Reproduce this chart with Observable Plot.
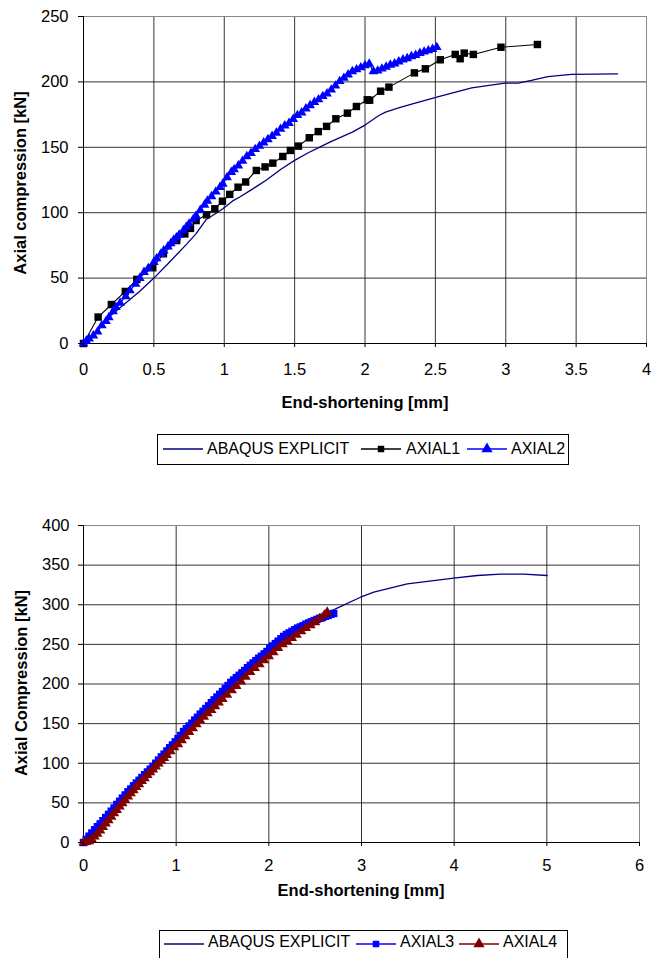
<!DOCTYPE html>
<html>
<head>
<meta charset="utf-8">
<script src="https://cdn.jsdelivr.net/npm/d3@7"></script>
<script src="https://cdn.jsdelivr.net/npm/@observablehq/plot@0.6"></script>
<style>
  html, body { margin: 0; padding: 0; background: #fff; overflow: hidden; }
  #root { position: relative; width: 652px; height: 958px; overflow: hidden; font-family: "Liberation Sans", Arial, sans-serif; color: #000; }
  .title { position: absolute; font-weight: bold; font-size: 16.5px; line-height: 1; white-space: nowrap; transform: translate(-50%, -50%); }
  .ytitle { transform: translate(-50%, -50%) rotate(-90deg); }
  .legend { position: absolute; border: 1px solid #000; background: #fff; box-sizing: border-box; }
  .legend span { position: absolute; font-size: 16px; line-height: 1; white-space: nowrap; }
  .legend svg { position: absolute; overflow: visible; }
</style>
</head>
<body>
<div id="root"></div>
<script>
// ---------- Chart 1 data ----------
const xTicks1 = [0, 0.5, 1, 1.5, 2, 2.5, 3, 3.5, 4];
const yTicks1 = [0, 50, 100, 150, 200, 250];
const xTitle1 = "End-shortening [mm]";
const yTitle1 = "Axial compression [kN]";
const series1 = ["ABAQUS EXPLICIT", "AXIAL1", "AXIAL2"];

const abaqus1 = [[0,0],[0.1,10],[0.19,21],[0.3,31],[0.4,40],[0.5,50],[0.6,61],[0.733,76],[0.8,84],[0.874,95],[0.92,98],
  [0.99,103],[1.06,109],[1.11,112],[1.2,118],[1.3,125],[1.4,133],[1.5,140],[1.6,146],[1.675,150],[1.75,154],[1.91,161.6],
  [2.0,167],[2.099,174.3],[2.146,176.9],[2.25,180.5],[2.382,184.5],[2.523,188.8],[2.758,195.5],[2.994,199],[3.088,199],
  [3.182,201.1],[3.3,204.1],[3.465,205.7],[3.795,206.2]];

const axial1 = [[0,0],[0.104,20.2],[0.198,29.8],[0.297,39.8],[0.379,49],[0.492,57.9],[0.568,68.6],[0.662,78.7],[0.72,83.8],
  [0.76,88],[0.80,94],[0.874,98.4],[0.933,103],[0.987,108.8],[1.039,114],[1.098,119.5],[1.152,123.5],[1.228,132.3],[1.29,135],
  [1.345,137.9],[1.416,143],[1.47,147.6],[1.527,150.9],[1.604,157.3],[1.668,162],[1.727,166],[1.793,171.8],[1.875,176.1],
  [1.939,181.2],[2.016,186.3],[2.033,186],[2.111,192.9],[2.17,196],[2.351,206.9],[2.429,210],[2.535,216.9],[2.641,221],
  [2.676,217.7],[2.705,222],[2.77,221],[2.966,226.5],[3.225,228.6]];

const axial2 = [[0,0],[0.02,2],[0.04,3.6],[0.07,6],[0.10,9],[0.13,13.8],[0.16,17],[0.18,20],[0.21,24.5],[0.23,27.8],[0.26,31],
  [0.30,36],[0.33,40.5],[0.37,45.6],[0.40,50],[0.43,54.5],[0.46,57.5],[0.50,62.2],[0.52,65],[0.55,68.5],[0.57,71],[0.60,74],
  [0.62,76.5],[0.64,79],[0.66,81],[0.68,83],[0.71,86.5],[0.73,89],[0.75,91.5],[0.78,95],[0.80,97.5],[0.83,102],[0.86,106],
  [0.88,109],[0.91,112.5],[0.94,116],[0.97,119.5],[0.99,122],[1.02,127],[1.05,131],[1.07,133],[1.10,136],[1.13,139.5],
  [1.16,143],[1.19,145.5],[1.22,148.5],[1.25,151],[1.28,153.5],[1.31,156],[1.34,158.5],[1.37,161],[1.40,164],[1.43,166.5],
  [1.46,168.5],[1.49,171.5],[1.52,174.5],[1.55,176.5],[1.58,179.5],[1.61,182],[1.64,184.5],[1.67,186.5],[1.70,189],[1.73,191],
  [1.76,194],[1.79,197],[1.82,200.5],[1.85,203],[1.88,205.5],[1.91,208],[1.94,209.5],[1.97,211],[2.00,212.5],[2.03,213.8],
  [2.06,208],[2.09,208.5],[2.12,210],[2.15,211.5],[2.18,213],[2.21,214],[2.24,215.5],[2.27,217],[2.30,218],[2.33,219.5],
  [2.36,220.5],[2.39,222],[2.42,223],[2.45,224],[2.48,225],[2.51,226.5]];

// ---------- Chart 2 data ----------
const xTicks2 = [0, 1, 2, 3, 4, 5, 6];
const yTicks2 = [0, 50, 100, 150, 200, 250, 300, 350, 400];
const xTitle2 = "End-shortening [mm]";
const yTitle2 = "Axial Compression [kN]";
const series2 = ["ABAQUS EXPLICIT", "AXIAL3", "AXIAL4"];

const abaqus2 = [[0,0],[0.1,16],[0.25,36],[0.5,68],[0.75,97],[1.0,128],[1.25,160],[1.5,190],[1.75,216],[2.0,245],[2.25,266],
  [2.5,282],[2.72,294.9],[2.989,309.5],[3.133,315.9],[3.493,326.4],[3.996,333.5],[4.248,336.9],[4.5,338.6],[4.751,338.6],[5.004,336.9]];

const axial3 = [[0,0],[0.03,4],[0.06,8],[0.09,12],[0.12,16],[0.15,20],[0.18,23.5],[0.21,27.5],[0.24,31.5],[0.27,35.5],[0.30,39.5],
  [0.33,43.5],[0.36,48],[0.39,52],[0.42,56],[0.45,60],[0.48,64],[0.51,67.5],[0.54,71.5],[0.57,75],[0.60,78.5],[0.63,82],
  [0.66,85.5],[0.69,89],[0.72,92.5],[0.75,96],[0.78,100],[0.81,104],[0.84,108],[0.87,111.5],[0.90,115.5],[0.93,119.5],
  [0.96,123],[0.99,127],[1.02,131],[1.05,135],[1.08,140],[1.11,143.5],[1.14,147],[1.17,150.5],[1.20,154.5],[1.23,158],
  [1.26,162],[1.29,165.5],[1.32,169],[1.35,172.5],[1.38,176.5],[1.41,180],[1.44,183.5],[1.47,187],[1.50,190.5],[1.53,194.5],
  [1.56,198],[1.59,202],[1.62,205],[1.65,208],[1.68,211],[1.71,214],[1.74,217],[1.77,220.5],[1.80,223.5],[1.83,226.5],
  [1.86,229.5],[1.89,232.5],[1.92,235],[1.95,238],[1.98,241],[2.01,245],[2.04,248],[2.07,251],[2.10,254],[2.13,257],
  [2.16,260],[2.19,262.5],[2.22,264.5],[2.25,266.5],[2.28,268.5],[2.31,270.5],[2.34,272],[2.37,273.5],[2.40,275.5],
  [2.43,277],[2.46,278.5],[2.49,280],[2.52,281.5],[2.55,283],[2.58,284],[2.61,285.5],[2.64,286.5],[2.67,288],[2.70,289]];

const axial4 = [[0,0],[0.03,0.5],[0.06,1.5],[0.09,4],[0.12,7.5],[0.15,11],[0.18,15],[0.21,19.5],[0.24,24],[0.27,28],[0.30,32.5],
  [0.33,37],[0.36,41],[0.39,45.5],[0.42,49.5],[0.45,53.5],[0.48,58],[0.51,62],[0.54,66],[0.57,70],[0.60,73.5],[0.63,77.5],
  [0.66,81],[0.69,85],[0.72,88.5],[0.75,92],[0.78,96],[0.81,99.5],[0.84,103],[0.87,106.5],[0.90,110.5],[0.94,115],[0.98,120],
  [1.02,124],[1.06,129],[1.10,134],[1.14,139.5],[1.18,144],[1.22,149],[1.26,154],[1.30,158.5],[1.34,163],[1.38,167],[1.42,172],
  [1.46,176.5],[1.50,181],[1.55,186.5],[1.60,192],[1.65,197.5],[1.70,203],[1.75,209],[1.80,215],[1.85,220],[1.90,225],
  [1.95,230],[2.00,235],[2.05,240],[2.10,245.5],[2.15,250],[2.20,254],[2.25,258],[2.30,262],[2.35,266.5],[2.40,270.5],
  [2.45,274],[2.50,278],[2.55,282.5],[2.60,287],[2.63,290.5]];

// ---------- styles ----------
const NAVY = "#000080", BLACK = "#000000", BLUE = "#0000ff", DARKRED = "#800000";
const X = d => d[0], Y = d => d[1];
const FONT = "'Liberation Sans', Arial, sans-serif";

function makeChart(o) {
  return Plot.plot({
    width: 652, height: 420,
    marginLeft: 83, marginRight: o.mr, marginTop: o.mt, marginBottom: o.mb,
    x: {domain: [o.xTicks[0], o.xTicks[o.xTicks.length - 1]]},
    y: {domain: [o.yTicks[0], o.yTicks[o.yTicks.length - 1]]},
    style: {fontFamily: FONT, fontSize: "16.5px", overflow: "visible", background: "transparent", color: "#000"},
    marks: [
      Plot.ruleX(o.xTicks, {stroke: "#111", strokeWidth: 1, strokeOpacity: 0.85}),
      Plot.ruleY(o.yTicks, {stroke: "#111", strokeWidth: 1, strokeOpacity: 0.85}),
      Plot.frame({stroke: "#888"}),
      Plot.ruleX([o.xTicks[0]], {stroke: "#000"}),
      Plot.ruleY([o.yTicks[0]], {stroke: "#000"}),
      ...o.marks,
      Plot.axisX(o.xTicks, {tickSize: 4, tickPadding: o.xpad, fontSize: 16.5, label: null, tickFormat: d => String(d)}),
      Plot.axisY(o.yTicks, {tickSize: 5, tickPadding: o.ypad, fontSize: 16.5, label: null, tickFormat: d => String(d)})
    ]
  });
}

const chart1 = makeChart({
  xTicks: xTicks1, yTicks: yTicks1, mr: 6, mt: 16, mb: 77, xpad: 16, ypad: 10,
  marks: [
    Plot.line(abaqus1, {x: X, y: Y, stroke: NAVY, strokeWidth: 1.3}),
    Plot.line(axial1, {x: X, y: Y, stroke: BLACK, strokeWidth: 1.1}),
    Plot.dot(axial1, {x: X, y: Y, symbol: "square", r: 4.2, fill: BLACK, stroke: "none"}),
    Plot.line(axial2, {x: X, y: Y, stroke: BLUE, strokeWidth: 1.2}),
    Plot.dot(axial2, {x: X, y: Y, symbol: "triangle", r: 3.6, fill: BLUE, stroke: "none"})
  ]
});

const chart2 = makeChart({
  xTicks: xTicks2, yTicks: yTicks2, mr: 13, mt: 45, mb: 58, xpad: 13, ypad: 9,
  marks: [
    Plot.line(abaqus2, {x: X, y: Y, stroke: NAVY, strokeWidth: 1.3}),
    Plot.line(axial3, {x: X, y: Y, stroke: BLUE, strokeWidth: 1.2}),
    Plot.dot(axial3, {x: X, y: Y, symbol: "square", r: 4.2, fill: BLUE, stroke: "none"}),
    Plot.line(axial4, {x: X, y: Y, stroke: DARKRED, strokeWidth: 1.2}),
    Plot.dot(axial4, {x: X, y: Y, symbol: "triangle", r: 3.8, fill: DARKRED, stroke: "none"})
  ]
});

const root = document.getElementById("root");
chart1.style.position = "absolute"; chart1.style.left = "0px"; chart1.style.top = "0px";
chart2.style.position = "absolute"; chart2.style.left = "0px"; chart2.style.top = "480px";
root.appendChild(chart1);
root.appendChild(chart2);

function addTitle(text, cx, cy, vertical) {
  const d = document.createElement("div");
  d.className = "title" + (vertical ? " ytitle" : "");
  d.style.left = cx + "px"; d.style.top = cy + "px";
  d.textContent = text;
  root.appendChild(d);
}
addTitle(xTitle1, 365, 402, false);
addTitle(yTitle1, 20, 183, true);
addTitle(xTitle2, 361, 890, false);
addTitle(yTitle2, 21, 683, true);

// ---------- legends ----------
function symbolSvg(color, shape) {
  const ns = "http://www.w3.org/2000/svg";
  const s = document.createElementNS(ns, "svg");
  s.setAttribute("width", 40); s.setAttribute("height", 12);
  const l = document.createElementNS(ns, "line");
  l.setAttribute("x1", 0); l.setAttribute("x2", 40); l.setAttribute("y1", 6); l.setAttribute("y2", 6);
  l.setAttribute("stroke", color); l.setAttribute("stroke-width", 1.3);
  s.appendChild(l);
  if (shape) {
    const p = document.createElementNS(ns, "path");
    const sym = shape === "square" ? d3.symbolSquare : d3.symbolTriangle;
    p.setAttribute("d", d3.symbol(sym, shape === "square" ? 42 : 55)());
    p.setAttribute("transform", "translate(20,6)");
    p.setAttribute("fill", color);
    s.appendChild(p);
  }
  return s;
}
function addLegend(box, items) {
  const lg = document.createElement("div");
  lg.className = "legend";
  Object.assign(lg.style, {left: box.left + "px", top: box.top + "px", width: box.w + "px", height: box.h + "px"});
  for (const it of items) {
    const s = symbolSvg(it.color, it.shape);
    s.style.left = (it.lx - box.left - 1) + "px";
    s.style.top = (box.lineY - box.top - 1 - 6) + "px";
    lg.appendChild(s);
    const t = document.createElement("span");
    t.textContent = it.label;
    t.style.left = (it.tx - box.left - 1) + "px";
    t.style.top = (box.textTop - box.top - 1) + "px";
    lg.appendChild(t);
  }
  root.appendChild(lg);
}
addLegend({left: 157, top: 434, w: 412, h: 31, lineY: 449, textTop: 441}, [
  {label: series1[0], color: NAVY, shape: null, lx: 163, tx: 207},
  {label: series1[1], color: BLACK, shape: "square", lx: 361, tx: 406},
  {label: series1[2], color: BLUE, shape: "triangle", lx: 467, tx: 511}
]);
addLegend({left: 159, top: 930, w: 409, h: 44, lineY: 944, textTop: 934}, [
  {label: series2[0], color: NAVY, shape: null, lx: 164, tx: 208},
  {label: series2[1], color: BLUE, shape: "square", lx: 356, tx: 400},
  {label: series2[2], color: DARKRED, shape: "triangle", lx: 459, tx: 503}
]);
</script>
</body>
</html>
